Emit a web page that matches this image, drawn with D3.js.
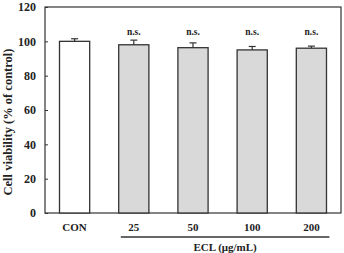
<!DOCTYPE html>
<html><head><meta charset="utf-8">
<script src="https://cdn.jsdelivr.net/npm/d3@7"></script>
<style>body{margin:0;background:#fff}text{font-family:"Liberation Serif","Times New Roman",serif;font-weight:bold;fill:#222}</style>
</head><body>
<svg id="c" width="344" height="253"></svg>
<script>
const categories = ["CON","25","50","100","200"];
const values = [100, 98, 96.3, 95, 96];
const errors = [1.5, 2.7, 2.8, 2, 1.2];
const sigLabels = ["", "n.s.", "n.s.", "n.s.", "n.s."];
const yTicks = [0,20,40,60,80,100,120];
const groupLabel = "ECL (μg/mL)";
const yLabel = "Cell viability (% of control)";

const svg = d3.select("#c");
const m = {l:45, r:3, t:7, b:40};
const W = 344, H = 253;
const x = d3.scaleBand().domain(categories).range([m.l, W-m.r]).paddingInner(0.49).paddingOuter(0.245);
const y = d3.scaleLinear().domain([0,120]).range([H-m.b, m.t]);

svg.append("rect").attr("x",m.l).attr("y",m.t).attr("width",W-m.r-m.l).attr("height",H-m.b-m.t)
  .attr("fill","none").attr("stroke","#333").attr("stroke-width",1.2);

svg.selectAll("rect.bar").data(categories).join("rect").attr("class","bar")
  .attr("x",d=>x(d)).attr("width",x.bandwidth())
  .attr("y",(d,i)=>y(values[i])).attr("height",(d,i)=>y(0)-y(values[i]))
  .attr("fill",(d,i)=>i===0?"#fff":"#d9d9d9").attr("stroke","#333").attr("stroke-width",1.3);

categories.forEach((d,i)=>{
  const cx = x(d)+x.bandwidth()/2;
  svg.append("line").attr("x1",cx).attr("x2",cx).attr("y1",y(values[i])).attr("y2",y(values[i]+errors[i])).attr("stroke","#333").attr("stroke-width",1.2);
  svg.append("line").attr("x1",cx-3.5).attr("x2",cx+3.5).attr("y1",y(values[i]+errors[i])).attr("y2",y(values[i]+errors[i])).attr("stroke","#333").attr("stroke-width",1.2);
  if (sigLabels[i]) svg.append("text").attr("x",cx).attr("y",35).attr("text-anchor","middle").attr("font-size",9.5).text(sigLabels[i]);
});

const ya = svg.append("g").attr("transform",`translate(${m.l},0)`)
  .call(d3.axisRight(y).tickValues(yTicks).tickSize(3).tickFormat(d3.format("d")));
ya.select(".domain").remove();
ya.selectAll("line").attr("stroke","#333");
ya.selectAll("text").attr("x",-9).attr("text-anchor","end").attr("font-size",12);

svg.selectAll("text.xl").data(categories).join("text").attr("class","xl")
  .attr("x",d=>x(d)+x.bandwidth()/2).attr("y",231).attr("text-anchor","middle").attr("font-size",11).text(d=>d);

const g0 = x(categories[1])+x.bandwidth()/2-13, g1 = x(categories[4])+x.bandwidth()/2+18;
svg.append("line").attr("x1",g0).attr("x2",g1).attr("y1",237).attr("y2",237).attr("stroke","#333").attr("stroke-width",1.3);
svg.append("text").attr("x",(g0+g1)/2).attr("y",250.5).attr("text-anchor","middle").attr("font-size",11).text(groupLabel);

svg.append("text").attr("transform",`translate(12,122) rotate(-90)`).attr("text-anchor","middle").attr("font-size",12.5).text(yLabel);
</script>
</body></html>
